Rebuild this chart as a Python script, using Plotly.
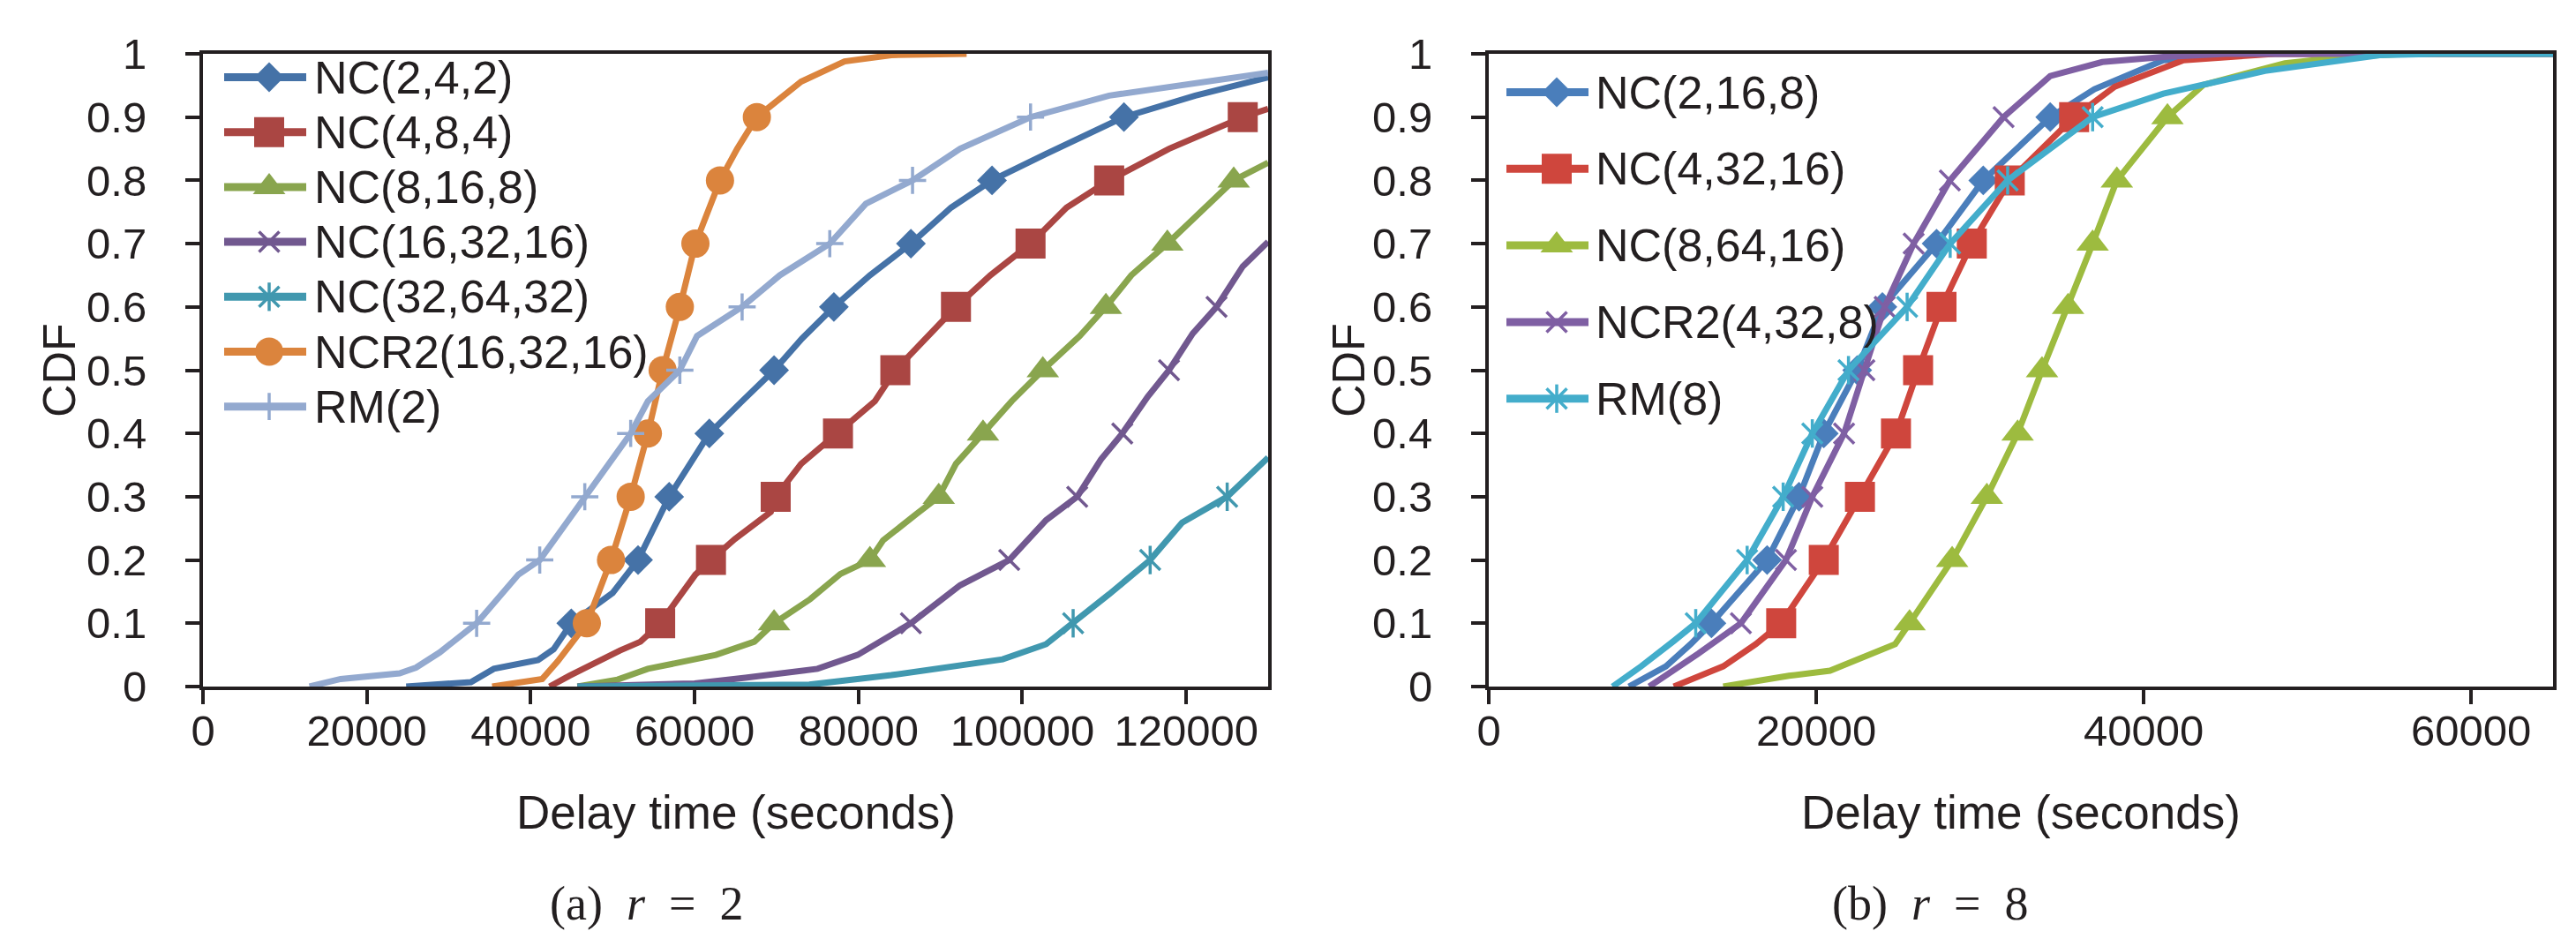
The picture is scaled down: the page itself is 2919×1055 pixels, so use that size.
import plotly.graph_objects as go

# ---------------- data ----------------
MARKER_LEVELS = [0.1, 0.2, 0.3, 0.4, 0.5, 0.6, 0.7, 0.8, 0.9]

# Panel (a) r = 2
A_NAMES = ["NC(2,4,2)", "NC(4,8,4)", "NC(8,16,8)", "NC(16,32,16)",
           "NC(32,64,32)", "NCR2(16,32,16)", "RM(2)"]

A_NC242_X = [24800, 32700, 35500, 40900, 42800, 44950, 50000, 53100, 56900, 61800, 65800,
             69700, 73100, 77000, 81400, 86400, 91300, 96300, 102900, 112400, 121100, 130000]
A_NC242_Y = [0, 0.007, 0.028, 0.042, 0.059, 0.1, 0.148, 0.2, 0.3, 0.4, 0.451,
             0.5, 0.55, 0.6, 0.65, 0.7, 0.757, 0.8, 0.842, 0.9, 0.934, 0.963]

A_NC484_X = [42300, 44700, 50900, 53400, 55800, 60100, 62000, 64900, 69300, 69900, 73000, 77500,
             82000, 84500, 88200, 91900, 96100, 101000, 105400, 110600, 117900, 126900, 130000]
A_NC484_Y = [0, 0.017, 0.057, 0.071, 0.1, 0.177, 0.2, 0.233, 0.276, 0.3, 0.352, 0.4,
             0.451, 0.5, 0.55, 0.6, 0.65, 0.7, 0.757, 0.8, 0.85, 0.9, 0.913]

A_NC8168_X = [45700, 50600, 54300, 58400, 62600, 67300, 69700, 74100, 77800, 81400, 83000, 87100,
              89800, 91900, 95200, 98700, 102500, 107000, 110200, 113300, 117700, 121600, 125800, 130000]
A_NC8168_Y = [0, 0.011, 0.028, 0.039, 0.05, 0.071, 0.1, 0.138, 0.178, 0.2, 0.231, 0.273,
              0.3, 0.352, 0.4, 0.451, 0.5, 0.554, 0.6, 0.65, 0.7, 0.749, 0.8, 0.828]

A_NC163216_X = [45700, 60000, 66200, 75000, 79900, 86400, 92400, 98400, 102900, 106700, 109600,
                112200, 115300, 117900, 120800, 123700, 126900, 130000]
A_NC163216_Y = [0, 0.005, 0.014, 0.028, 0.05, 0.1, 0.16, 0.2, 0.263, 0.3, 0.359,
                0.4, 0.458, 0.5, 0.558, 0.6, 0.664, 0.703]

A_NC326432_X = [45700, 74000, 84000, 97600, 102900, 106200, 110600, 115600, 119500, 125000, 130000]
A_NC326432_Y = [0, 0.003, 0.018, 0.043, 0.067, 0.1, 0.146, 0.2, 0.259, 0.3, 0.362]

A_NCR2_X = [35300, 41400, 43300, 46850, 49800, 52200, 54300, 56100, 58200, 60100, 63100,
            65200, 67600, 70400, 73000, 78300, 84000, 93200]
A_NCR2_Y = [0, 0.012, 0.04, 0.1, 0.2, 0.3, 0.4, 0.5, 0.6, 0.7, 0.8,
            0.85, 0.9, 0.93, 0.956, 0.988, 0.998, 1.0]

A_RM2_X = [13000, 16800, 24000, 26000, 28900, 33400, 38500, 41100, 44000, 46600, 52200, 54300,
           58200, 60300, 65800, 70400, 76500, 80900, 86600, 92400, 101000, 110600, 130000]
A_RM2_Y = [0, 0.012, 0.021, 0.03, 0.054, 0.1, 0.177, 0.2, 0.252, 0.3, 0.4, 0.451,
           0.5, 0.554, 0.6, 0.65, 0.7, 0.763, 0.8, 0.85, 0.9, 0.934, 0.97]

# Panel (b) r = 8
B_NAMES = ["NC(2,16,8)", "NC(4,32,16)", "NC(8,64,16)", "NCR2(4,32,8)", "RM(8)"]

B_NC2168_X = [8560, 10820, 12330, 13600, 17000, 18950, 20460, 22500, 24040, 27350, 30200,
              34290, 36990, 41200, 47400, 65000]
B_NC2168_Y = [0, 0.032, 0.067, 0.1, 0.2, 0.3, 0.4, 0.5, 0.6, 0.7, 0.8,
              0.9, 0.944, 0.99, 1.0, 1.0]

B_NC43216_X = [11300, 14320, 16310, 17860, 20460, 22670, 24870, 26220, 27650, 29500, 31820,
               35750, 38230, 42430, 48000, 65000]
B_NC43216_Y = [0, 0.032, 0.067, 0.1, 0.2, 0.3, 0.4, 0.5, 0.6, 0.7, 0.8,
               0.9, 0.948, 0.99, 1.0, 1.0]

B_NC86416_X = [14320, 18330, 20840, 22830, 24820, 25700, 28300, 30420, 32300, 33790, 35380,
               36880, 38360, 41450, 43650, 48620, 52300, 56000, 65000]
B_NC86416_Y = [0, 0.017, 0.025, 0.047, 0.067, 0.1, 0.2, 0.3, 0.4, 0.5, 0.6,
               0.7, 0.8, 0.9, 0.951, 0.985, 0.995, 1.0, 1.0]

B_NCR24328_X = [9800, 12800, 15400, 18150, 19760, 21700, 22940, 24180, 25950, 28160, 31440,
                34290, 37470, 41200, 45000, 65000]
B_NCR24328_Y = [0, 0.052, 0.1, 0.2, 0.3, 0.4, 0.5, 0.6, 0.7, 0.8, 0.9,
                0.965, 0.987, 0.995, 1.0, 1.0]

B_RM8_X = [7560, 9310, 11300, 12640, 15780, 17980, 19760, 21970, 25550, 28180, 31690,
           36880, 41200, 47400, 54400, 58000, 65000]
B_RM8_Y = [0, 0.032, 0.072, 0.1, 0.2, 0.3, 0.4, 0.5, 0.6, 0.7, 0.8,
           0.9, 0.937, 0.973, 0.998, 1.0, 1.0]

X_TICKS_A = [0, 20000, 40000, 60000, 80000, 100000, 120000]
X_TICKS_B = [0, 20000, 40000, 60000]
Y_TICKS = [0, 0.1, 0.2, 0.3, 0.4, 0.5, 0.6, 0.7, 0.8, 0.9, 1]

# ---------------- styles ----------------
W, H = 2919, 1055
INK = "#231F20"
FONT = "Arial, Liberation Sans, sans-serif"
SERIF = "Liberation Serif, Times New Roman, serif"

A_COLORS = ["#4572A7", "#AA4643", "#89A54E", "#71588F", "#4198AF", "#DB843D", "#93A9CF"]
A_SYMBOLS = ["diamond", "square", "triangle", "x", "asterisk", "circle", "plus"]
B_COLORS = ["#4A7EBB", "#CF463D", "#9DBB3F", "#7F5FA3", "#43ADCB"]
B_SYMBOLS = ["diamond", "square", "triangle", "x", "asterisk"]

A_SERIES = [(A_NC242_X, A_NC242_Y), (A_NC484_X, A_NC484_Y), (A_NC8168_X, A_NC8168_Y),
            (A_NC163216_X, A_NC163216_Y), (A_NC326432_X, A_NC326432_Y),
            (A_NCR2_X, A_NCR2_Y), (A_RM2_X, A_RM2_Y)]
B_SERIES = [(B_NC2168_X, B_NC2168_Y), (B_NC43216_X, B_NC43216_Y), (B_NC86416_X, B_NC86416_Y),
            (B_NCR24328_X, B_NCR24328_Y), (B_RM8_X, B_RM8_Y)]

LINE_W = 7
LEG_LINE_W = 9


def marker_specs(sym, color):
    thin = dict(color=color, width=3.5)
    if sym == "diamond":
        return [dict(symbol="diamond", size=26, color=color, line=dict(width=0))]
    if sym == "square":
        return [dict(symbol="square", size=34, color=color, line=dict(width=0))]
    if sym == "triangle":
        return [dict(symbol="triangle-up", size=32, color=color, line=dict(width=0))]
    if sym == "circle":
        return [dict(symbol="circle", size=32, color=color, line=dict(width=0))]
    if sym == "x":
        return [dict(symbol="x-thin-open", size=23, color=color, line=thin)]
    if sym == "asterisk":
        return [dict(symbol="x-thin-open", size=23, color=color, line=thin),
                dict(symbol="line-ns-open", size=23, color=color, line=thin)]
    if sym == "plus":
        return [dict(symbol="cross-thin-open", size=22, color=color, line=thin)]
    return []


fig = go.Figure()


def add_series(xs, ys, color, sym, xa, ya):
    fig.add_trace(go.Scatter(x=xs, y=ys, mode="lines", xaxis=xa, yaxis=ya,
                             line=dict(color=color, width=LINE_W),
                             showlegend=False, hoverinfo="skip"))
    mx = [x for x, y in zip(xs, ys) if round(y, 3) in MARKER_LEVELS]
    my = [y for y in ys if round(y, 3) in MARKER_LEVELS]
    for spec in marker_specs(sym, color):
        fig.add_trace(go.Scatter(x=mx, y=my, mode="markers", xaxis=xa, yaxis=ya,
                                 marker=spec, showlegend=False, hoverinfo="skip"))


for (xs, ys), c, s in zip(A_SERIES, A_COLORS, A_SYMBOLS):
    add_series(xs, ys, c, s, "x", "y")
for (xs, ys), c, s in zip(B_SERIES, B_COLORS, B_SYMBOLS):
    add_series(xs, ys, c, s, "x2", "y2")

# ---------------- custom legends (overlay axes in pixel units) ----------------
PLOT_A = (230, 1437)
PLOT_B = (1687, 2893)
PLOT_TOP, PLOT_BOT = 61, 778

LEG_A = dict(x0=254, x1=347, xm=305, xt=354, y0=87.5, dy=62.2)
LEG_B = dict(x0=1707, x1=1800, xm=1764, xt=1806, y0=104.5, dy=86.8)

annotations = []


def add_legend(names, colors, symbols, leg, xa, ya, xref, yref):
    for i, (n, c, s) in enumerate(zip(names, colors, symbols)):
        yy = leg["y0"] + i * leg["dy"]
        fig.add_trace(go.Scatter(x=[leg["x0"], leg["x1"]], y=[yy, yy], mode="lines",
                                 xaxis=xa, yaxis=ya, line=dict(color=c, width=LEG_LINE_W),
                                 showlegend=False, hoverinfo="skip"))
        for spec in marker_specs(s, c):
            fig.add_trace(go.Scatter(x=[leg["xm"]], y=[yy], mode="markers", xaxis=xa, yaxis=ya,
                                     marker=spec, showlegend=False, hoverinfo="skip"))
        annotations.append(dict(x=leg["xt"], y=yy, xref=xref, yref=yref, text=n,
                                showarrow=False, xanchor="left", yanchor="middle",
                                font=dict(family=FONT, size=52, color=INK)))


add_legend(A_NAMES, A_COLORS, A_SYMBOLS, LEG_A, "x3", "y3", "x3", "y3")
add_legend(B_NAMES, B_COLORS, B_SYMBOLS, LEG_B, "x4", "y4", "x4", "y4")


def px(xp):
    return xp / W


def py(yp):
    return 1 - yp / H


# axis titles and captions
for cx in [(PLOT_A[0] + PLOT_A[1]) / 2, (PLOT_B[0] + PLOT_B[1]) / 2]:
    annotations.append(dict(x=px(cx), y=py(920), xref="paper", yref="paper",
                            text="Delay time (seconds)", showarrow=False,
                            xanchor="center", yanchor="middle",
                            font=dict(family=FONT, size=53, color=INK)))
for cx in [67, 1528]:
    annotations.append(dict(x=px(cx), y=py(420), xref="paper", yref="paper",
                            text="CDF", showarrow=False, textangle=-90,
                            xanchor="center", yanchor="middle",
                            font=dict(family=FONT, size=52, color=INK)))
NB = "\u00a0"
for cx, lab, rv in [(732, "(a)", "2"), (2187, "(b)", "8")]:
    annotations.append(dict(x=px(cx), y=py(1024), xref="paper", yref="paper",
                            text=lab + NB * 2 + "<i>r</i>" + NB * 2 + "=" + NB * 2 + rv,
                            showarrow=False, xanchor="center", yanchor="middle",
                            font=dict(family=SERIF, size=54, color=INK)))

axis_common = dict(showline=True, linecolor=INK, linewidth=4, mirror=True,
                   ticks="outside", ticklen=16, tickwidth=4, tickcolor=INK,
                   showgrid=False, zeroline=False, automargin=False,
                   tickfont=dict(family=FONT, size=49, color=INK))

ydom = [py(PLOT_BOT), py(PLOT_TOP)]

fig.update_layout(
    width=W, height=H,
    margin=dict(l=0, r=0, t=0, b=0, autoexpand=False),
    paper_bgcolor="white", plot_bgcolor="white",
    showlegend=False,
    annotations=annotations,
    xaxis=dict(domain=[px(PLOT_A[0]), px(PLOT_A[1])], range=[0, 130000],
               tickvals=X_TICKS_A, tickformat="d", ticklabelstandoff=-12, anchor="y",
               **axis_common),
    yaxis=dict(domain=ydom, range=[0, 1], tickvals=Y_TICKS, ticklabelstandoff=34,
               anchor="x", **axis_common),
    xaxis2=dict(domain=[px(PLOT_B[0]), px(PLOT_B[1])], range=[0, 65000],
                tickvals=X_TICKS_B, tickformat="d", ticklabelstandoff=-12, anchor="y2",
                **axis_common),
    yaxis2=dict(domain=ydom, range=[0, 1], tickvals=Y_TICKS, ticklabelstandoff=34,
                anchor="x2", **axis_common),
    xaxis3=dict(overlaying="x", range=list(PLOT_A), visible=False, anchor="y3"),
    yaxis3=dict(overlaying="y", range=[PLOT_BOT, PLOT_TOP], visible=False, anchor="x3"),
    xaxis4=dict(overlaying="x2", range=list(PLOT_B), visible=False, anchor="y4"),
    yaxis4=dict(overlaying="y2", range=[PLOT_BOT, PLOT_TOP], visible=False, anchor="x4"),
)

fig.write_html("out.html", include_plotlyjs=True, config={"displayModeBar": False},
               post_script="document.body.style.margin='0px';document.body.style.overflow='hidden';")
